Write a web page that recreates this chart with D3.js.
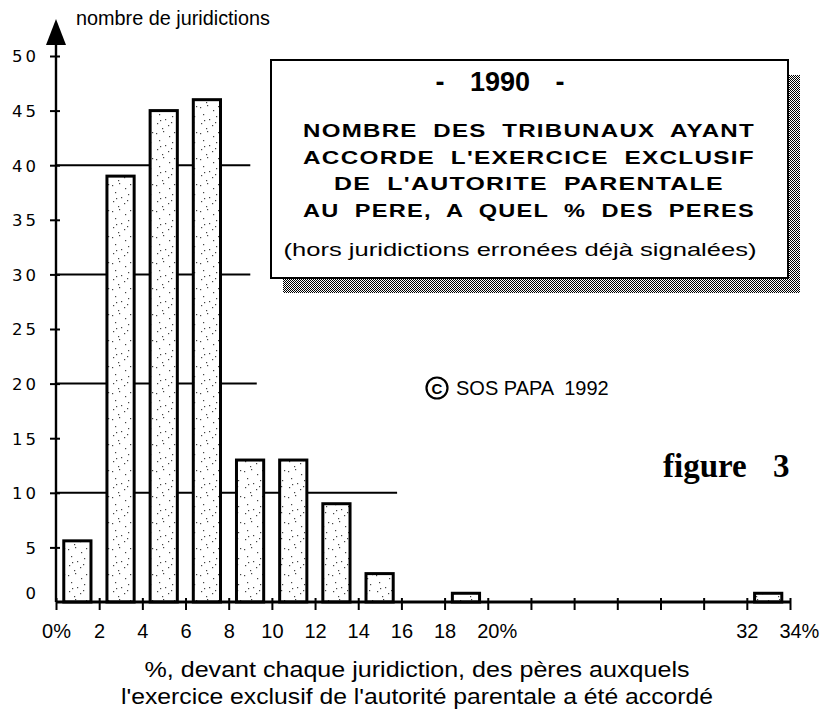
<!DOCTYPE html>
<html>
<head>
<meta charset="utf-8">
<script src="https://cdn.jsdelivr.net/npm/d3@7"></script>
<style>
body{margin:0;background:#fff;}
svg{display:block;}
text{fill:#000;}
</style>
</head>
<body>
<svg id="chart"></svg>
<script>
// values
const binStart=[0,2,4,6,8,10,12,14,18,32];      // % class (2 points wide)
const counts=[5.6,39,45,46,13,13,9,2.6,0.8,0.8]; // nombre de juridictions
const yTicks=[0,5,10,15,20,25,30,35,40,45,50];
const xTicks=[0,2,4,6,8,10,12,14,16,18,20,22,24,26,28,30,32,34];
const xTickLabels=["0%","2","4","6","8","10","12","14","16","18","20%","","","","","","32","34%"];
const gridValues=[40,30,20,10];
const gridEnds=[9,9,9.3,15.8];   // in % units, the lines stop there
const titleLines=["NOMBRE DES TRIBUNAUX AYANT","ACCORDE L'EXERCICE EXCLUSIF","DE L'AUTORITE PARENTALE","AU PERE, A QUEL % DES PERES"];
const xTitle=["%, devant chaque juridiction, des pères auxquels","l'exercice exclusif de l'autorité parentale a été accordé"];

function histogram(){
    const width=826, height=715;
    const svg=d3.select("#chart")
        .attr("width",width)
        .attr("height",height)
        .style("background","#fff");

    const x=d3.scaleLinear().domain([0,34]).range([56,790]);
    const y=d3.scaleLinear().domain([0,50]).range([602,56]);

    // patterns: stippled bars and dithered shadow
    const defs=svg.append("defs");
    const dots=defs.append("pattern").attr("id","stipple")
        .attr("patternUnits","userSpaceOnUse").attr("width",22).attr("height",26);
    dots.append("rect").attr("width",22).attr("height",26).attr("fill","#fff");
    [[2,3],[9,1],[15,6],[5,10],[18,12],[11,15],[3,19],[14,21],[8,24],[20,2],[6,16],[17,18]]
        .forEach(function(p){
            dots.append("rect").attr("x",p[0]).attr("y",p[1]).attr("width",1.2).attr("height",1.2).attr("fill","#444");
        });
    const dither=defs.append("pattern").attr("id","dither")
        .attr("patternUnits","userSpaceOnUse").attr("width",2).attr("height",2);
    dither.append("rect").attr("width",2).attr("height",2).attr("fill","#fff");
    dither.append("rect").attr("width",1).attr("height",1).attr("fill","#000");
    dither.append("rect").attr("x",1).attr("y",1).attr("width",1).attr("height",1).attr("fill","#000");

    // partial horizontal lines
    svg.append("g").selectAll("line").data(gridValues).enter().append("line")
        .attr("x1",x(0)).attr("x2",function(d,i){return x(gridEnds[i]);})
        .attr("y1",function(d){return y(d);}).attr("y2",function(d){return y(d);})
        .attr("stroke","#000").attr("stroke-width",2);

    // bars
    svg.append("g").selectAll("rect").data(counts).enter().append("rect")
        .attr("x",function(d,i){return x(binStart[i]+0.36);})
        .attr("width",function(d,i){return x(binStart[i]+1.62)-x(binStart[i]+0.36);})
        .attr("y",function(d){return y(d);})
        .attr("height",function(d){return y(0)-y(d);})
        .attr("fill","url(#stipple)")
        .attr("stroke","#000").attr("stroke-width",3);

    // x axis
    const xAxis=svg.append("g").attr("transform","translate(0,"+y(0)+")")
        .call(d3.axisBottom(x).tickValues(xTicks).tickSize(0).tickFormat(function(d,i){return xTickLabels[i];}));
    xAxis.select(".domain").attr("d","M"+x(0)+",0H"+x(34)).attr("stroke","#000").attr("stroke-width",2.8);
    xAxis.selectAll(".tick").append("line").attr("y1",-4).attr("y2",8).attr("stroke","#000").attr("stroke-width",2);
    xAxis.selectAll(".tick text")
        .attr("y",36).attr("dy",0)
        .style("font-family","'Liberation Sans',Arial,sans-serif")
        .style("font-size","20px")
        .attr("dx",function(d,i){
            const t=xTickLabels[i];
            if(t.endsWith("%") && t!=="0%"){ return this.getComputedTextLength()/2-this.getSubStringLength(0,t.length-1)/2; }
            return 0;
        });

    // y axis
    const yAxis=svg.append("g").attr("transform","translate("+x(0)+",0)")
        .call(d3.axisLeft(y).tickValues(yTicks).tickSize(0));
    yAxis.select(".domain").attr("d","M0,"+y(0)+"V40").attr("stroke","#000").attr("stroke-width",2.4);
    yAxis.selectAll(".tick").filter(function(d){return d>0;})
        .append("line").attr("x1",-6).attr("x2",4).attr("stroke","#000").attr("stroke-width",2);
    yAxis.selectAll(".tick text")
        .attr("x",-17)
        .attr("dy",function(d){return d===0?"-0.2em":"0.36em";})
        .style("font-family","'DejaVu Sans',sans-serif")
        .style("font-size","16.5px")
        .style("letter-spacing","3px");
    svg.append("path").attr("d","M"+x(0)+",19L"+(x(0)-10)+",45L"+(x(0)+10)+",45Z").attr("fill","#000");
    svg.append("text").attr("x",76).attr("y",25)
        .attr("textLength",194).attr("lengthAdjust","spacingAndGlyphs")
        .style("font-family","'Liberation Sans',Arial,sans-serif").style("font-size","20px")
        .text("nombre de juridictions");

    // x axis title
    svg.append("g").selectAll("text").data(xTitle).enter().append("text")
        .attr("x",417).attr("y",function(d,i){return 677+i*27;})
        .attr("text-anchor","middle")
        .attr("textLength",function(d,i){return i===0?545:592;})
        .attr("lengthAdjust","spacingAndGlyphs")
        .style("font-family","'Liberation Sans',Arial,sans-serif").style("font-size","22px")
        .text(function(d){return d;});

    // title box with shadow
    const box=svg.append("g");
    box.append("rect").attr("x",283).attr("y",75).attr("width",517).attr("height",218).attr("fill","url(#dither)");
    box.append("rect").attr("x",271).attr("y",60).attr("width",517).attr("height",218)
        .attr("fill","#fff").attr("stroke","#000").attr("stroke-width",2);
    // "- 1990 -" : dashes set apart from the year
    [["-",440],["1990",500],["-",560]].forEach(function(p){
        box.append("text").attr("x",p[1]).attr("y",91).attr("text-anchor","middle")
            .style("font-family","'Liberation Sans',Arial,sans-serif").style("font-size","27px").style("font-weight","bold")
            .text(p[0]);
    });
    box.selectAll(".tl").data(titleLines).enter().append("text").attr("class","tl")
        .attr("x",529).attr("y",function(d,i){return 137+i*26.5;})
        .attr("text-anchor","middle")
        .attr("textLength",function(d,i){return i===2?390:452;})
        .attr("lengthAdjust","spacingAndGlyphs")
        .style("font-family","'Liberation Sans',Arial,sans-serif").style("font-size","19px").style("font-weight","bold")
        .style("letter-spacing","1px").style("word-spacing","6px")
        .text(function(d){return d;});
    box.append("text").attr("x",520).attr("y",256).attr("text-anchor","middle")
        .attr("textLength",473).attr("lengthAdjust","spacingAndGlyphs")
        .style("font-family","'Liberation Sans',Arial,sans-serif").style("font-size","19px")
        .text("(hors juridictions erronées déjà signalées)");

    // copyright and figure number
    svg.append("circle").attr("cx",437).attr("cy",388).attr("r",10.5).attr("fill","none").attr("stroke","#000").attr("stroke-width",2.2);
    svg.append("text").attr("x",437).attr("y",393.5).attr("text-anchor","middle")
        .style("font-family","'Liberation Sans',Arial,sans-serif").style("font-size","15px").style("font-weight","bold")
        .text("C");
    svg.append("text").attr("x",456).attr("y",395).style("white-space","pre")
        .style("font-family","'Liberation Sans',Arial,sans-serif").style("font-size","20px")
        .text("SOS PAPA  1992");
    svg.append("text").attr("x",663).attr("y",477)
        .style("font-family","'Liberation Serif','Times New Roman',serif").style("font-size","33px").style("font-weight","bold")
        .text("figure");
    svg.append("text").attr("x",773).attr("y",477)
        .style("font-family","'Liberation Serif','Times New Roman',serif").style("font-size","33px").style("font-weight","bold")
        .text("3");
}
histogram();
</script>
</body>
</html>
